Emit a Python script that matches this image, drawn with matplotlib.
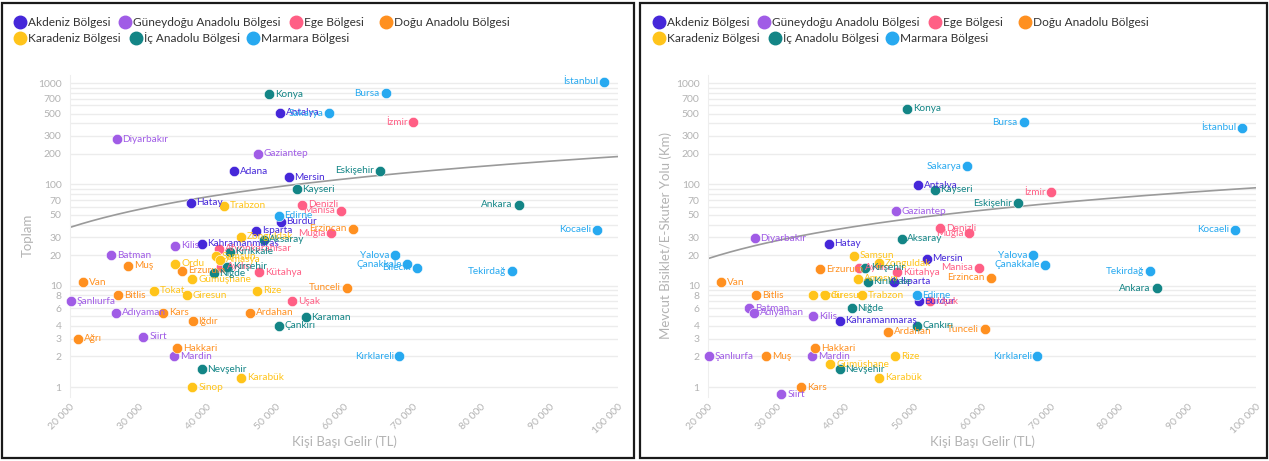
import matplotlib
matplotlib.use("Agg")
import matplotlib.pyplot as plt
import numpy as np
from matplotlib.lines import Line2D
from matplotlib.patches import Rectangle
from matplotlib.ticker import FixedLocator, FuncFormatter

plt.rcParams['font.family'] = ['Lato', 'DejaVu Sans']

W, H = 1269, 461

regions = ["Akdeniz Bölgesi", "Güneydoğu Anadolu Bölgesi", "Ege Bölgesi", "Doğu Anadolu Bölgesi",
           "Karadeniz Bölgesi", "İç Anadolu Bölgesi", "Marmara Bölgesi"]
region_colors = ["#4527d9", "#a05ce6", "#ff5f85", "#ff9020", "#ffc41a", "#138586", "#27a9f0"]

provinces = ["Antalya", "Adana", "Mersin", "Hatay", "Burdur", "Isparta", "Kahramanmaraş",
             "Diyarbakır", "Gaziantep", "Kilis", "Batman", "Şanlıurfa", "Adıyaman", "Siirt", "Mardin",
             "İzmir", "Denizli", "Manisa", "Muğla", "Afyonkarahisar", "Aydın", "Kütahya", "Uşak",
             "Erzincan", "Muş", "Erzurum", "Van", "Tunceli", "Bitlis", "Kars", "Ardahan", "Iğdır", "Ağrı", "Hakkari",
             "Trabzon", "Zonguldak", "Samsun", "Amasya", "Ordu", "Giresun", "Gümüşhane", "Tokat", "Rize",
             "Karabük", "Sinop",
             "Konya", "Eskişehir", "Kayseri", "Ankara", "Aksaray", "Kırıkkale", "Kırşehir", "Niğde", "Karaman",
             "Çankırı", "Nevşehir",
             "İstanbul", "Bursa", "Sakarya", "Edirne", "Kocaeli", "Yalova", "Çanakkale", "Bilecik", "Tekirdağ",
             "Kırklareli"]

province_region = ["AK", "AK", "AK", "AK", "AK", "AK", "AK",
                   "GD", "GD", "GD", "GD", "GD", "GD", "GD", "GD",
                   "EG", "EG", "EG", "EG", "EG", "EG", "EG", "EG",
                   "DA", "DA", "DA", "DA", "DA", "DA", "DA", "DA", "DA", "DA", "DA",
                   "KD", "KD", "KD", "KD", "KD", "KD", "KD", "KD", "KD", "KD", "KD",
                   "IA", "IA", "IA", "IA", "IA", "IA", "IA", "IA", "IA", "IA", "IA",
                   "MR", "MR", "MR", "MR", "MR", "MR", "MR", "MR", "MR", "MR"]
region_codes = ["AK", "GD", "EG", "DA", "KD", "IA", "MR"]

# kişi başı gelir (TL)
income = [50700, 44000, 51900, 37600, 50750, 47150, 39200,
          26830, 47420, 35300, 26000, 20150, 26670, 30720, 35250,
          70100, 53880, 59550, 58100, 41800, 42100, 47630, 52410,
          61270, 28490, 36320, 21920, 60400, 27030, 33600, 46240, 37910, 21210, 35670,
          42550, 45000, 41260, 41860, 35400, 37040, 37860, 32260, 47300, 44940, 37860,
          49100, 65260, 53070, 85500, 48250, 43300, 42900, 40950, 54400, 50500, 39200,
          98000, 66070, 57800, 50480, 96900, 67480, 69250, 70600, 84500, 68100]

# toplam
total = [510, 135, 117, 65.5, 42.8, 34.9, 25.8,
         279, 201, 24.8, 20, 7, 5.4, 3.14, 2,
         410, 62.6, 55, 33, 23.2, 15.3, 13.6, 7,
         36.5, 15.7, 14.1, 10.8, 9.55, 8, 5.4, 5.4, 4.45, 3, 2.4,
         61.6, 30.5, 19.6, 18, 16.4, 8, 11.6, 8.9, 8.9, 1.24, 1,
         775, 136, 89.5, 62.6, 28.3, 21.7, 15.4, 13.3, 4.9, 4, 1.5,
         1030, 793, 504, 48.8, 35.5, 20, 16.3, 15.1, 13.8, 2]

# mevcut bisiklet / e-skuter yolu (km); nan = yok
existing = [98, np.nan, 18.5, 25.8, 7, 10.9, 4.5,
            29.3, 54, 5, 6, 2, 5.4, 0.85, 2,
            84, 37, 15, 33, np.nan, 15, 13.5, 7,
            12, 2, 14.6, 10.8, 3.7, 8, 1, 3.5, np.nan, np.nan, 2.4,
            8, 16.7, 19.8, 11.7, 8, 8, 1.67, np.nan, 2, 1.24, np.nan,
            555, 65, 88.7, 9.4, 28.9, 10.9, 15, 6, np.nan, 4, 1.5,
            360, 409, 150, 8, 35.7, 20, 16.1, np.nan, 13.8, 2]

# trend çizgisi eğimleri (y = eğim * gelir)
trend_total_slope = 0.00188
trend_existing_slope = 0.000925

y_grid = [v * 10 ** k for k in range(3) for v in range(1, 10)] + [1000]
y_labeled = [1, 2, 3, 4, 6, 8, 10, 20, 30, 50, 70, 100, 200, 300, 500, 700, 1000]
x_ticks = [20000, 30000, 40000, 50000, 60000, 70000, 80000, 90000, 100000]

GRAY = "#b3b3b3"


def fx(px):
    return px / W


def fy(py):
    return 1 - py / H


def draw_panel(x0, values, slope, ylabel):
    # eksen: 20 000 -> x0, 100 000 -> x0 + 548 ; 1000 -> 83 px, 1 -> 387 px
    ymax, ymin = 1200, 0.8
    dec = (387 - 83) / 3
    top = 83 - dec * (np.log10(ymax) - 3)
    bottom = 387 + dec * (0 - np.log10(ymin))
    ax = fig.add_axes([fx(x0), fy(bottom), 548 / W, (bottom - top) / H])
    ax.set_yscale('log')
    ax.set_xlim(20000, 100000)
    ax.set_ylim(ymin, ymax)
    ax.yaxis.set_major_locator(FixedLocator(y_grid))
    ax.yaxis.set_minor_locator(FixedLocator([]))
    ax.yaxis.set_major_formatter(FuncFormatter(
        lambda v, p: (f"{v:g}" if any(abs(v - l) < 1e-6 for l in y_labeled) else "")))
    ax.set_xticks(x_ticks)
    ax.set_xticklabels([f"{t:,}".replace(",", " ") for t in x_ticks], rotation=45,
                       ha='right', va='top', rotation_mode='anchor')
    ax.tick_params(axis='both', length=0, labelsize=7.5, labelcolor=GRAY)
    ax.tick_params(axis='x', pad=4)
    ax.tick_params(axis='y', pad=6)
    ax.grid(axis='y', color='#ececec', lw=1)
    for s in ['top', 'right', 'bottom']:
        ax.spines[s].set_visible(False)
    ax.spines['left'].set_color('#eeeeee')
    ax.set_axisbelow(True)

    xs = np.linspace(20000, 100000, 200)
    ax.plot(xs, slope * xs, color='#9a9a9a', lw=1.2, zorder=2)

    for name, reg, x, y in zip(provinces, province_region, income, values):
        if np.isnan(y):
            continue
        c = region_colors[region_codes.index(reg)]
        ax.scatter([x], [y], s=55, color=c, edgecolors='white', linewidths=0.4, zorder=3,
                   clip_on=False)
        if x > 56000:
            ax.annotate(name, (x, y), xytext=(-4.2, 0), textcoords='offset points',
                        ha='right', va='center', fontsize=7.2, color=c, zorder=4)
        else:
            ax.annotate(name, (x, y), xytext=(4.2, 0), textcoords='offset points',
                        ha='left', va='center', fontsize=7.2, color=c, zorder=4)

    fig.text(fx(x0 + 274), fy(442), "Kişi Başı Gelir (TL)", ha='center', va='center',
             fontsize=9.5, color=GRAY)
    fig.text(fx(x0 - 42), fy(235), ylabel, ha='center', va='center', rotation=90,
             fontsize=9.5, color=GRAY)
    return ax


def draw_legend(x_left):
    row1 = [(0, 20), (1, 125), (2, 296), (3, 386)]
    row2 = [(4, 20), (5, 136), (6, 253)]
    for items, yy in [(row1, 22), (row2, 38)]:
        for i, dx in items:
            fig.add_artist(Line2D([fx(x_left + dx)], [fy(yy)], marker='o', ms=9,
                                  color=region_colors[i], transform=fig.transFigure))
            fig.text(fx(x_left + dx + 8), fy(yy), regions[i], ha='left', va='center',
                     fontsize=8.6, color='#333333')


fig = plt.figure(figsize=(W / 100, H / 100), dpi=100)
fig.patch.set_facecolor('white')

draw_panel(70, total, trend_total_slope, "Toplam")
draw_panel(708, existing, trend_existing_slope, "Mevcut Bisiklet/E-Skuter Yolu (Km)")
draw_legend(0)
draw_legend(639)

for bx0, bx1 in [(2, 634), (640, 1267)]:
    fig.add_artist(Rectangle((fx(bx0), fy(458)), fx(bx1 - bx0), (458 - 3) / H,
                             transform=fig.transFigure, fill=False, ec='#1a1a1a', lw=1.6))

fig.savefig("out.png", dpi=100)
